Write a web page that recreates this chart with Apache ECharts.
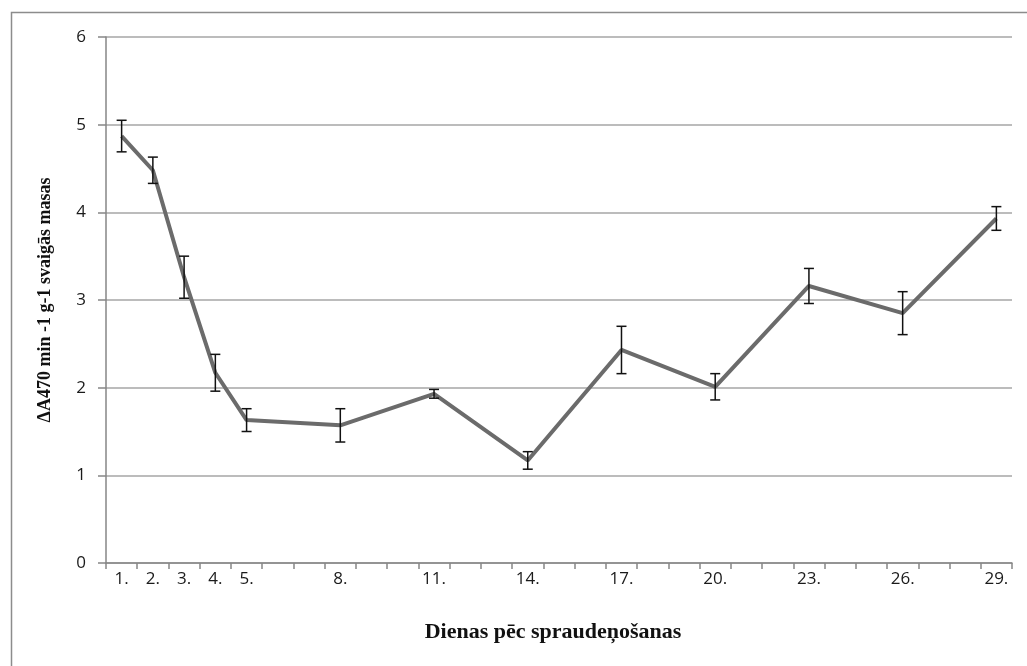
<!DOCTYPE html>
<html>
<head>
<meta charset="utf-8">
<script src="https://cdn.jsdelivr.net/npm/echarts@6/dist/echarts.min.js"></script>
<style>
html,body{margin:0;padding:0;background:#fff;}
#chart{width:1027px;height:666px;}
</style>
</head>
<body>
<div id="chart"></div>
<script>
var allDays = [];
for (var i = 1; i <= 29; i++) allDays.push(i + '.');
var labelDays = [1, 2, 3, 4, 5, 8, 11, 14, 17, 20, 23, 26, 29];
var days = [1, 2, 3, 4, 5, 8, 11, 14, 17, 20, 23, 26, 29];
var values = [4.87, 4.48, 3.26, 2.17, 1.63, 1.57, 1.93, 1.17, 2.43, 2.01, 3.16, 2.85, 3.93];
var errors = [0.18, 0.15, 0.24, 0.21, 0.13, 0.19, 0.05, 0.10, 0.27, 0.15, 0.20, 0.245, 0.135];
var yTicks = [0, 1, 2, 3, 4, 5, 6];

var lineData = days.map(function (d, i) { return [d + '.', values[i]]; });
var errData = days.map(function (d, i) { return [d + '.', values[i] - errors[i], values[i] + errors[i]]; });

var chart = echarts.init(document.getElementById('chart'));
chart.setOption({
  animation: false,
  backgroundColor: '#fff',
  graphic: [{
    type: 'rect', left: 9, top: 10, silent: true, z: -10,
    shape: { width: 1040, height: 700 },
    style: { fill: 'none', stroke: '#8c8c8c', lineWidth: 1.5 }
  }],
  grid: { left: 106, right: 15, top: 37, bottom: 103 },
  xAxis: {
    type: 'category',
    data: allDays,
    boundaryGap: true,
    axisLine: { lineStyle: { color: '#868686', width: 1.5 } },
    axisTick: { show: true, interval: 0, length: 6, lineStyle: { color: '#868686', width: 1.5 } },
    axisLabel: {
      interval: function (idx) { return labelDays.indexOf(idx + 1) >= 0; },
      fontFamily: 'Open Sans', fontSize: 17, color: '#1a1a1a', margin: 8
    },
    name: 'Dienas pēc spraudeņošanas',
    nameLocation: 'middle',
    nameGap: 58,
    nameTextStyle: { fontFamily: 'Liberation Serif', fontWeight: 'bold', fontSize: 22, color: '#111', padding: [0, 12, 0, 0] }
  },
  yAxis: {
    type: 'value',
    min: 0, max: 6, interval: 1,
    axisLine: { show: true, lineStyle: { color: '#868686', width: 1.5 } },
    axisTick: { show: true, length: 8, lineStyle: { color: '#868686', width: 1.5 } },
    splitLine: { lineStyle: { color: '#a6a6a6', width: 1.5 } },
    axisLabel: {
      fontFamily: 'Open Sans', fontSize: 17, color: '#1a1a1a', margin: 20,
      formatter: function (v) { return yTicks.indexOf(v) >= 0 ? String(v) : ''; }
    },
    name: 'ΔA470 min -1 g-1 svaigās masas',
    nameLocation: 'middle',
    nameGap: 52,
    nameRotate: 90,
    nameTextStyle: { fontFamily: 'Liberation Serif', fontWeight: 'bold', fontSize: 18, color: '#111' }
  },
  series: [
    {
      type: 'line',
      data: lineData,
      symbol: 'none',
      lineStyle: { color: '#6b6b6b', width: 4 },
      z: 2
    },
    {
      type: 'custom',
      data: errData,
      z: 3,
      renderItem: function (params, api) {
        var x = api.value(0);
        var lo = api.coord([x, api.value(1)]);
        var hi = api.coord([x, api.value(2)]);
        var hw = 5;
        var st = { stroke: '#111', lineWidth: 1.5 };
        return {
          type: 'group',
          children: [
            { type: 'line', shape: { x1: lo[0], y1: lo[1], x2: hi[0], y2: hi[1] }, style: st },
            { type: 'line', shape: { x1: lo[0] - hw, y1: lo[1], x2: lo[0] + hw, y2: lo[1] }, style: st },
            { type: 'line', shape: { x1: hi[0] - hw, y1: hi[1], x2: hi[0] + hw, y2: hi[1] }, style: st }
          ]
        };
      }
    }
  ]
});
</script>
</body>
</html>
